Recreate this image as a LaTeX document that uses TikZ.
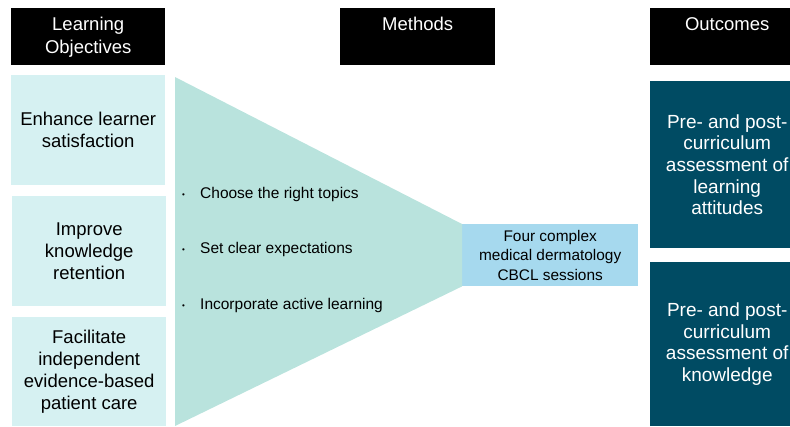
\documentclass[tikz,border=0pt]{standalone}
\usepackage{fontspec}
\setmainfont{Liberation Sans}
\usepackage{tikz}
\usetikzlibrary{calc,positioning}

\definecolor{goalfill}{HTML}{D6F1F2}
\definecolor{funnelfill}{HTML}{B9E3DD}
\definecolor{cbclfill}{HTML}{A6D9EE}
\definecolor{outfill}{HTML}{004B63}

\begin{document}
\begin{tikzpicture}[x=1pt,y=-1pt]

  % Styles
  \tikzstyle{head}=[fill=black,minimum height=57pt,anchor=north west,inner sep=0pt]
  \tikzstyle{headtext}=[text=white,align=center,anchor=north,inner sep=0pt,font=\fontsize{18.5}{23}\selectfont]
  \tikzstyle{goal}=[fill=goalfill,minimum width=154pt,anchor=north west,inner sep=0pt,align=center,font=\fontsize{18.5}{22}\selectfont]
  \tikzstyle{outc}=[fill=outfill,text=white,minimum width=154pt,anchor=north west,inner sep=0pt,align=center,font=\fontsize{19}{21.7}\selectfont]
  \tikzstyle{cbcl}=[fill=cbclfill,minimum width=176pt,minimum height=62pt,anchor=north west,inner sep=0pt,align=center,font=\fontsize{15.4}{19.5}\selectfont]
  \tikzstyle{item}=[anchor=west,inner sep=0pt,font=\fontsize{15.5}{18}\selectfont]

  % \head{<id>}{<width>}{<label>}
  \newcommand{\head}[3]{node[head,minimum width=#2] (#1) {} node[headtext] at ([yshift=-9pt]#1.north) {#3}}
  % \bul{<id>}{<label>}
  \newcommand{\bul}[2]{node[item] (#1) {\makebox[18pt][l]{\raisebox{1pt}{\fontsize{8}{8}\selectfont\textbullet}}#2}}

  % ===========================================================================

  \useasboundingbox (0,0) rectangle (790,426);

  % Draw headers
  \path (11,8)  \head{obj}{154pt}{Learning\\Objectives};
  \path (340,8) \head{meth}{155pt}{Methods};
  \path (650,8) \head{outh}{154pt}{Outcomes};

  % Draw objectives
  \node[goal,minimum height=110pt] (satis) at (11,75)  {Enhance learner\\satisfaction};
  \node[goal,minimum height=110pt] (reten) at (12,196) {Improve\\knowledge\\retention};
  \node[goal,minimum height=109pt] (care)  at (12,317) {Facilitate\\independent\\evidence-based\\patient care};

  % Draw funnel and sessions
  \node[cbcl] (cbcl) at (462,224) {Four complex\\medical dermatology\\CBCL sessions};
  \fill[funnelfill] (175,77) -- (cbcl.north west) -- (cbcl.south west) -- (175,426) -- cycle;

  % Draw methods
  \path (182,194) \bul{topics}{Choose the right topics};
  \path (182,249) \bul{expect}{Set clear expectations};
  \path (182,305) \bul{active}{Incorporate active learning};

  % Draw outcomes
  \node[outc,minimum height=167pt] (attit) at (650,81)  {Pre- and post-\\curriculum\\assessment of\\learning\\attitudes};
  \node[outc,minimum height=164pt] (know)  at (650,262) {Pre- and post-\\curriculum\\assessment of\\knowledge};

\end{tikzpicture}
\end{document}
